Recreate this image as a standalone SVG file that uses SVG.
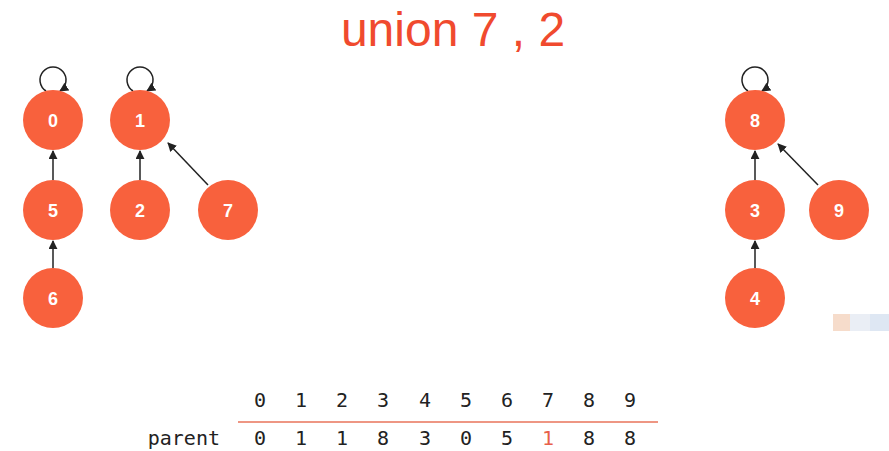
<svg xmlns="http://www.w3.org/2000/svg" width="889" height="451" viewBox="0 0 889 451">
<style>
.node circle{fill:#F8613D;}
.node text{fill:#fff;font-family:"Liberation Sans",Arial,sans-serif;font-weight:bold;font-size:18px;text-anchor:middle;}
.edge{stroke:#222;stroke-width:1.5;fill:none;}
.mono{font-family:"DejaVu Sans Mono","Liberation Mono",monospace;font-size:20px;fill:#222;text-anchor:middle;}
</style>
<defs>
<marker id="ah" viewBox="0 0 10 10" refX="9" refY="5" markerWidth="6" markerHeight="6" orient="auto">
<path d="M0,0 L10,5 L0,10 z" fill="#222"/>
</marker>
</defs>
<rect width="889" height="451" fill="#fff"/>
<text x="453" y="46" font-family="'Liberation Sans',Arial,sans-serif" font-size="48" fill="#F04A2E" text-anchor="middle">union 7 , 2</text>
<g id="connectors">
<path class="edge" d="M46,91 A13,13 0 1 1 60,91" marker-end="url(#ah)"/>
<path class="edge" d="M133,91 A13,13 0 1 1 147,91" marker-end="url(#ah)"/>
<path class="edge" d="M748,91 A13,13 0 1 1 762,91" marker-end="url(#ah)"/>
<line class="edge" x1="53" y1="180" x2="53" y2="151" marker-end="url(#ah)"/>
<line class="edge" x1="53" y1="268" x2="53" y2="241" marker-end="url(#ah)"/>
<line class="edge" x1="140" y1="180" x2="140" y2="151" marker-end="url(#ah)"/>
<line class="edge" x1="208" y1="185" x2="168" y2="143" marker-end="url(#ah)"/>
<line class="edge" x1="755" y1="180" x2="755" y2="151" marker-end="url(#ah)"/>
<line class="edge" x1="755" y1="268" x2="755" y2="241" marker-end="url(#ah)"/>
<line class="edge" x1="818" y1="185" x2="778" y2="144" marker-end="url(#ah)"/>
</g>
<g id="node0" class="node"><circle cx="53" cy="120" r="30"/><text x="53" y="126.5">0</text></g>
<g id="node1" class="node"><circle cx="140" cy="120" r="30"/><text x="140" y="126.5">1</text></g>
<g id="node5" class="node"><circle cx="53" cy="210" r="30"/><text x="53" y="216.5">5</text></g>
<g id="node2" class="node"><circle cx="140" cy="210" r="30"/><text x="140" y="216.5">2</text></g>
<g id="node7" class="node"><circle cx="228" cy="210" r="30"/><text x="228" y="216.5">7</text></g>
<g id="node6" class="node"><circle cx="53" cy="298" r="30"/><text x="53" y="304.5">6</text></g>
<g id="node8" class="node"><circle cx="755" cy="120" r="30"/><text x="755" y="126.5">8</text></g>
<g id="node3" class="node"><circle cx="755" cy="210" r="30"/><text x="755" y="216.5">3</text></g>
<g id="node9" class="node"><circle cx="839" cy="210" r="30"/><text x="839" y="216.5">9</text></g>
<g id="node4" class="node"><circle cx="755" cy="298" r="30"/><text x="755" y="304.5">4</text></g>
<rect x="833" y="314" width="17" height="17" fill="#F6DCCB"/>
<rect x="850" y="314" width="20" height="17" fill="#EAEEF5"/>
<rect x="870" y="314" width="19" height="17" fill="#DEE7F3"/>
<g id="table">
<line x1="238" y1="422" x2="658" y2="422" stroke="#E8735A" stroke-width="1.5"/>
<text class="mono" x="260" y="407">0</text>
<text class="mono" x="301" y="407">1</text>
<text class="mono" x="342" y="407">2</text>
<text class="mono" x="383" y="407">3</text>
<text class="mono" x="425" y="407">4</text>
<text class="mono" x="466" y="407">5</text>
<text class="mono" x="507" y="407">6</text>
<text class="mono" x="548" y="407">7</text>
<text class="mono" x="589" y="407">8</text>
<text class="mono" x="630" y="407">9</text>
<text class="mono" x="220" y="445" style="text-anchor:end">parent</text>
<text class="mono" x="260" y="445">0</text>
<text class="mono" x="301" y="445">1</text>
<text class="mono" x="342" y="445">1</text>
<text class="mono" x="383" y="445">8</text>
<text class="mono" x="425" y="445">3</text>
<text class="mono" x="466" y="445">0</text>
<text class="mono" x="507" y="445">5</text>
<text class="mono" x="548" y="445" style="fill:#E8604A">1</text>
<text class="mono" x="589" y="445">8</text>
<text class="mono" x="630" y="445">8</text>
</g>
</svg>
